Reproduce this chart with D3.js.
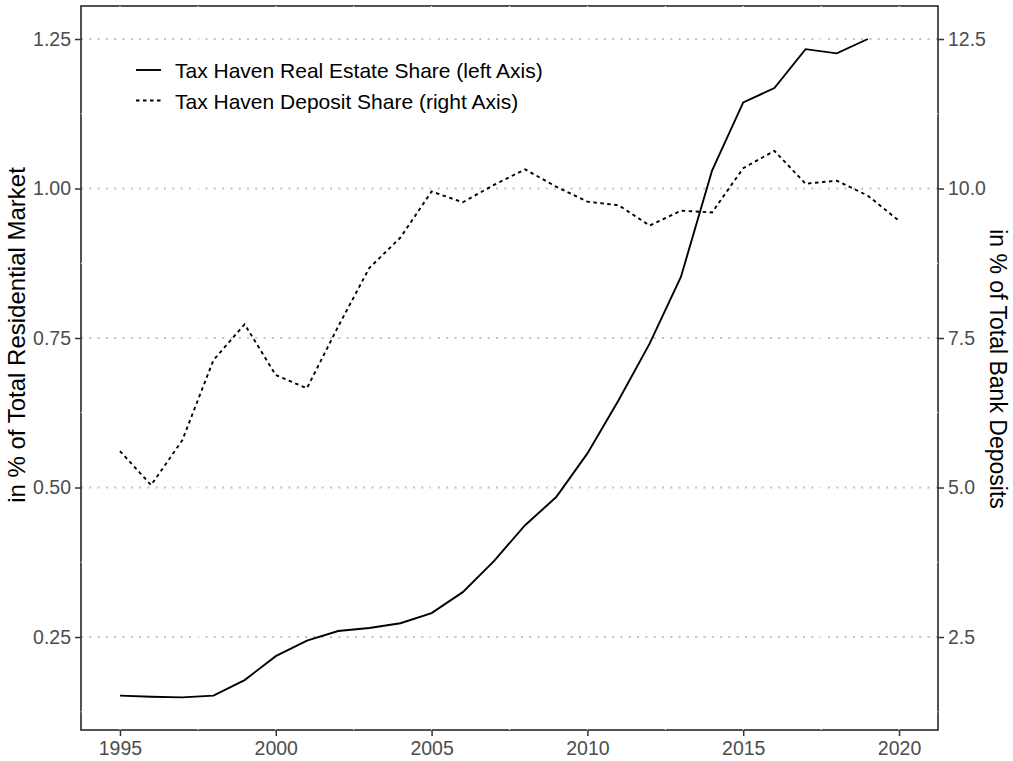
<!DOCTYPE html>
<html>
<head>
<meta charset="utf-8">
<script src="https://cdn.jsdelivr.net/npm/d3@7"></script>
<style>
  html, body { margin: 0; padding: 0; background: #fff; }
  svg { display: block; font-family: "Liberation Sans", Arial, sans-serif; }
</style>
</head>
<body>
<svg id="chart" width="1013" height="761"></svg>
<script>
// data
const reYears = [1995, 1996, 1997, 1998, 1999, 2000, 2001, 2002, 2003, 2004, 2005, 2006, 2007,
  2008, 2009, 2010, 2011, 2012, 2013, 2014, 2015, 2016, 2017, 2018, 2019];
const realEstateShare = [0.152, 0.150, 0.149, 0.152, 0.178, 0.218, 0.244, 0.260, 0.265, 0.273,
  0.290, 0.325, 0.377, 0.437, 0.484, 0.557, 0.646, 0.741, 0.852, 1.030, 1.144, 1.168, 1.233,
  1.226, 1.250];

const depYears = [1995, 1996, 1997, 1998, 1999, 2000, 2001, 2002, 2003, 2004, 2005, 2006, 2007,
  2008, 2009, 2010, 2011, 2012, 2013, 2014, 2015, 2016, 2017, 2018, 2019, 2020];
const depositShare = [5.61, 5.04, 5.79, 7.13, 7.73, 6.88, 6.66, 7.69, 8.67, 9.18, 9.95, 9.77,
  10.06, 10.32, 10.03, 9.78, 9.72, 9.38, 9.63, 9.60, 10.34, 10.63, 10.08, 10.13, 9.88, 9.46];

const xTicks = [1995, 2000, 2005, 2010, 2015, 2020];
const xMinor = [1997.5, 2002.5, 2007.5, 2012.5, 2017.5];
const yLeftTicks = [0.25, 0.50, 0.75, 1.00, 1.25];
const yLeftMinor = [0.125, 0.375, 0.625, 0.875, 1.125];
const yRightTicks = [2.5, 5.0, 7.5, 10.0, 12.5];

const legendLabels = ['Tax Haven Real Estate Share (left Axis)', 'Tax Haven Deposit Share (right Axis)'];
const legendDash = [null, '3.5,3.5'];

const svg = d3.select('#chart');
const panel = { left: 81, right: 938, top: 6, bottom: 730 };

const x = d3.scaleLinear().domain([1993.75, 2021.25]).range([panel.left, panel.right]);
const yL = d3.scaleLinear().domain([0.0945, 1.3052]).range([panel.bottom, panel.top]);
const yR = d3.scaleLinear().domain([0.945, 13.052]).range([panel.bottom, panel.top]);

// dotted major grid
svg.append('g')
  .selectAll('line')
  .data(yLeftTicks)
  .join('line')
  .attr('x1', panel.left).attr('x2', panel.right)
  .attr('y1', (d) => yL(d)).attr('y2', (d) => yL(d))
  .attr('stroke', '#c4c4c4')
  .attr('stroke-width', 2)
  .attr('stroke-dasharray', '2,6.3');

// panel border
svg.append('rect')
  .attr('x', panel.left).attr('y', panel.top)
  .attr('width', panel.right - panel.left)
  .attr('height', panel.bottom - panel.top)
  .attr('fill', 'none')
  .attr('stroke', '#1a1a1a')
  .attr('stroke-width', 1.5);

// white grid lines (they nick the border)
const white = svg.append('g').attr('stroke', '#fff').attr('stroke-width', 1.1);
white.selectAll('.vg')
  .data(xTicks.concat(xMinor))
  .join('line')
  .attr('class', 'vg')
  .attr('x1', (d) => x(d)).attr('x2', (d) => x(d))
  .attr('y1', panel.top).attr('y2', panel.bottom);
white.selectAll('.hg')
  .data(yLeftMinor)
  .join('line')
  .attr('class', 'hg')
  .attr('y1', (d) => yL(d)).attr('y2', (d) => yL(d))
  .attr('x1', panel.left).attr('x2', panel.right);

// axes
const axisBottom = svg.append('g')
  .attr('transform', `translate(0,${panel.bottom})`)
  .call(d3.axisBottom(x).tickValues(xTicks).tickFormat(d3.format('d')).tickSize(6).tickPadding(4));
const axisLeft = svg.append('g')
  .attr('transform', `translate(${panel.left},0)`)
  .call(d3.axisLeft(yL).tickValues(yLeftTicks).tickFormat(d3.format('.2f')).tickSize(6).tickPadding(4));
const axisRight = svg.append('g')
  .attr('transform', `translate(${panel.right},0)`)
  .call(d3.axisRight(yR).tickValues(yRightTicks).tickFormat(d3.format('.1f')).tickSize(6).tickPadding(4));

[axisBottom, axisLeft, axisRight].forEach((g) => {
  g.select('.domain').remove();
  g.selectAll('.tick line').attr('stroke', '#333').attr('stroke-width', 1.5);
  g.selectAll('.tick text')
    .attr('fill', '#4d4d4d')
    .attr('font-size', '19.5px')
    .attr('font-family', '"Liberation Sans", Arial, sans-serif');
});
axisBottom.selectAll('.tick text').attr('dy', '0.75em');

// series
const line = d3.line();
svg.append('path')
  .datum(depYears.map((yr, i) => [x(yr), yR(depositShare[i])]))
  .attr('d', line)
  .attr('fill', 'none')
  .attr('stroke', '#000')
  .attr('stroke-width', 1.9)
  .attr('stroke-dasharray', '3.5,3.5');

svg.append('path')
  .datum(reYears.map((yr, i) => [x(yr), yL(realEstateShare[i])]))
  .attr('d', line)
  .attr('fill', 'none')
  .attr('stroke', '#000')
  .attr('stroke-width', 1.9);

// legend
const legend = svg.append('g').attr('transform', 'translate(136,70)');
const items = legend.selectAll('g')
  .data(legendLabels)
  .join('g')
  .attr('transform', (d, i) => `translate(0,${i * 30.5})`);
items.append('line')
  .attr('x1', 0).attr('x2', 25)
  .attr('stroke', '#000')
  .attr('stroke-width', 1.9)
  .attr('stroke-dasharray', (d, i) => legendDash[i]);
items.append('text')
  .attr('x', 39)
  .attr('y', 8)
  .attr('font-size', '21px')
  .attr('fill', '#000')
  .text((d) => d);

// axis titles
svg.append('text')
  .attr('transform', 'translate(25,335) rotate(-90)')
  .attr('text-anchor', 'middle')
  .attr('font-size', '24px')
  .attr('fill', '#000')
  .text('in % of Total Residential Market');

svg.append('text')
  .attr('transform', 'translate(990,369) rotate(90)')
  .attr('text-anchor', 'middle')
  .attr('font-size', '23px')
  .attr('fill', '#000')
  .text('in % of Total Bank Deposits');
</script>
</body>
</html>
